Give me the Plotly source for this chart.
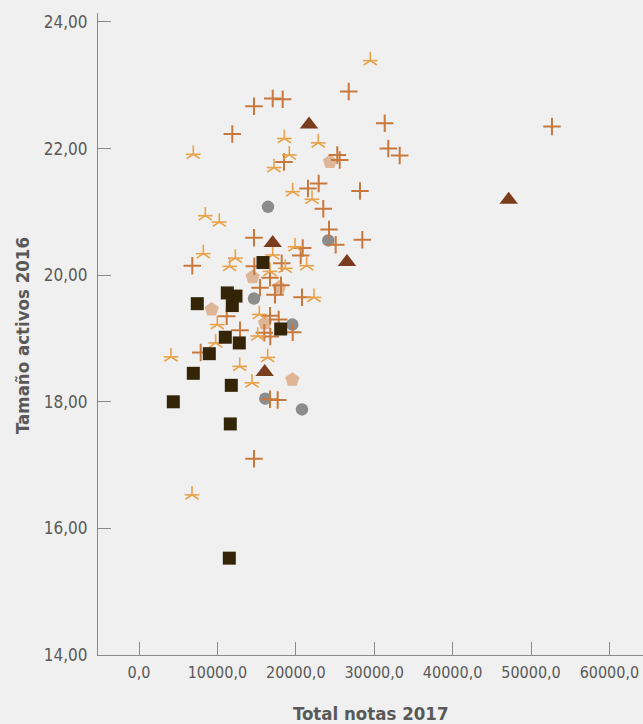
import plotly.graph_objects as go

# ---- data (Total notas 2017, Tamaño activos 2016) ----
plus_x = [14668, 17053, 18329, 11900, 18495, 21556, 22921, 26747, 31339, 31798,
          33252, 25293, 25599, 28189, 23507, 24235, 25089, 28482, 52678, 14668,
          6798, 20880, 20625, 14707, 18201, 15434, 16709, 18112, 17347, 20791,
          11186, 16709, 17819, 19604, 12883, 15982, 16747, 7870, 16709, 17691,
          14668]
plus_y = [22.67, 22.79, 22.78, 22.23, 21.79, 21.37, 21.45, 22.90, 22.40, 22.00,
          21.89, 21.90, 21.82, 21.33, 21.05, 20.72, 20.48, 20.56, 22.35, 20.59,
          20.15, 20.43, 20.31, 20.14, 20.19, 19.80, 19.96, 19.84, 19.69, 19.65,
          19.35, 19.36, 19.30, 19.10, 19.13, 19.09, 19.03, 18.78, 18.04, 18.03,
          17.10]

star_x = [29502, 18533, 22870, 6926, 19171, 17219, 19604, 22066, 8457, 10242,
          8202, 12283, 11569, 17053, 19898, 21390, 18660, 16709, 22321, 15344,
          9987, 15140, 9783, 4082, 16415, 12844, 14413, 6760]
star_y = [23.39, 22.16, 22.09, 21.91, 21.90, 21.70, 21.32, 21.20, 20.94, 20.84,
          20.34, 20.27, 20.14, 20.32, 20.45, 20.15, 20.11, 20.06, 19.65, 19.38,
          19.22, 19.04, 18.93, 18.71, 18.70, 18.56, 18.30, 16.53]

square_x = [15816, 11263, 12372, 7436, 11900, 18074, 11008, 12793, 8967, 6926,
            11773, 4375, 11645, 11518]
square_y = [20.20, 19.72, 19.67, 19.55, 19.52, 19.15, 19.02, 18.93, 18.76, 18.45,
            18.26, 18.00, 17.65, 15.53]

circle_x = [16454, 24145, 14668, 19553, 16110, 20791]
circle_y = [21.08, 20.55, 19.63, 19.22, 18.05, 17.88]

tri_x = [21684, 17053, 26530, 47156, 16033]
tri_y = [22.38, 20.51, 20.21, 21.19, 18.47]

pent_x = [24362, 14502, 17895, 9273, 16071, 19553]
pent_y = [21.79, 19.97, 19.81, 19.46, 19.24, 18.35]

x_title = "Total notas 2017"
y_title = "Tamaño activos 2016"

BG = "#f0f0f0"
TXT = "#595959"
AX = "#8a8a8a"
FONT = "DejaVu Sans Condensed, DejaVu Sans, sans-serif"

fig = go.Figure()

fig.add_trace(go.Scatter(x=circle_x, y=circle_y, mode="markers",
                         marker=dict(symbol="circle", size=12.5, color="#8c8c8c",
                                     line=dict(width=0))))
fig.add_trace(go.Scatter(x=pent_x, y=pent_y, mode="markers",
                         marker=dict(symbol="pentagon", size=15, color="#deb595",
                                     line=dict(width=0))))
fig.add_trace(go.Scatter(x=plus_x, y=plus_y, mode="markers",
                         marker=dict(symbol="cross-thin-open", size=12.5, color="#c8783c",
                                     line=dict(width=2, color="#c8783c"))))
# five-armed asterisk built from two open symbols
fig.add_trace(go.Scatter(x=star_x, y=star_y, mode="markers",
                         marker=dict(symbol="y-up-open", size=11, color="#e8a24a",
                                     line=dict(width=1.6, color="#e8a24a"))))
fig.add_trace(go.Scatter(x=star_x, y=star_y, mode="markers",
                         marker=dict(symbol="line-ew-open", size=10.5, color="#e8a24a",
                                     line=dict(width=1.6, color="#e8a24a"))))
fig.add_trace(go.Scatter(x=square_x, y=square_y, mode="markers",
                         marker=dict(symbol="square", size=13, color="#352508",
                                     line=dict(width=0))))
fig.add_trace(go.Scatter(x=tri_x, y=tri_y, mode="markers",
                         marker=dict(symbol="triangle-up", size=16, color="#7a3d1f",
                                     line=dict(width=0))))

fig.update_layout(
    width=643, height=724,
    paper_bgcolor=BG, plot_bgcolor=BG,
    margin=dict(l=98, r=0, t=13, b=69, autoexpand=False),
    showlegend=False,
    separators=",.",
    font=dict(family=FONT, color=TXT),
    xaxis=dict(range=[-5230, 64286], tickmode="linear", tick0=0, dtick=10000,
               tickformat=".1f", ticks="inside", ticklen=13, tickcolor=AX, tickwidth=1,
               showline=True, linecolor=AX, linewidth=1.2, showgrid=False, zeroline=False,
               tickfont=dict(family=FONT, size=16, color=TXT), ticklabelstandoff=3),
    yaxis=dict(range=[14, 24.142], tickmode="linear", tick0=14, dtick=2,
               tickformat=".2f", ticks="inside", ticklen=13, tickcolor=AX, tickwidth=1,
               showline=True, linecolor=AX, linewidth=1.2, showgrid=False, zeroline=False,
               tickfont=dict(family=FONT, size=17, color=TXT), ticklabelstandoff=6),
    annotations=[
        dict(text="<b>" + x_title + "</b>", xref="paper", yref="paper", x=0.5, y=-0.0919,
             xanchor="center", yanchor="middle", showarrow=False,
             font=dict(family=FONT, size=18.5, color=TXT)),
        dict(text="<b>" + y_title + "</b>", xref="paper", yref="paper", x=-0.1383, y=0.498,
             xanchor="center", yanchor="middle", textangle=-90, showarrow=False,
             font=dict(family=FONT, size=18.5, color=TXT)),
    ],
)

fig.write_html(
    "out.html",
    config={"displayModeBar": False},
    post_script="document.body.style.margin='0';"
                "document.body.style.background='#f0f0f0';"
                "document.documentElement.style.overflow='hidden';",
)
